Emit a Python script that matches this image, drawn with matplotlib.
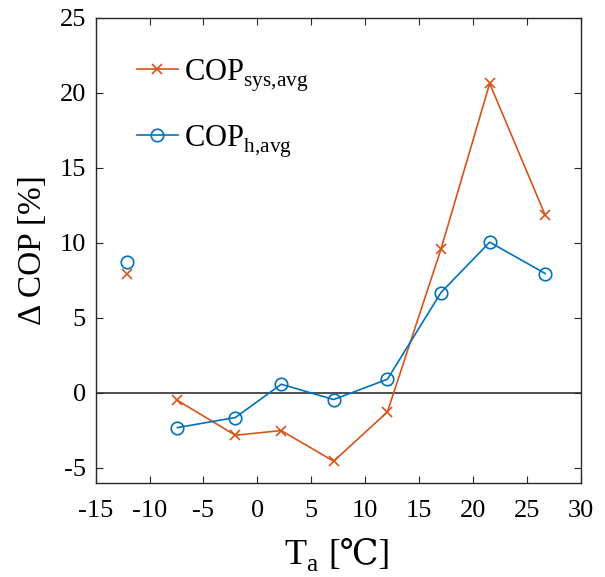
import numpy as np
import matplotlib
matplotlib.use("Agg")
import matplotlib.pyplot as plt
import matplotlib._mathtext as mt

plt.rcParams['font.family'] = ['Liberation Serif', 'DejaVu Serif']
plt.rcParams['mathtext.fontset'] = 'custom'
plt.rcParams['mathtext.rm'] = 'Liberation Serif'
plt.rcParams['mathtext.it'] = 'Liberation Serif:italic'
plt.rcParams['axes.unicode_minus'] = False
# push subscripts a bit lower, like the original
mt.FontConstantsBase.sub1 = 0.45
mt.FontConstantsBase.sub2 = 0.6

# ambient temperature [C]
t_iso = -12.06
t_a = [-7.42, -2.04, 2.22, 7.08, 12.06, 17.03, 21.55, 26.7]

# delta COP [%]
cop_sys_iso = 7.93
cop_sys = [-0.49, -2.82, -2.51, -4.55, -1.27, 9.58, 20.63, 11.85]
cop_h_iso = 8.73
cop_h = [-2.31, -1.64, 0.58, -0.44, 0.91, 6.69, 10.05, 7.96]

orange = '#D95319'
blue = '#0072BD'

fig = plt.figure(figsize=(6.05, 5.77), dpi=100)
ax = fig.add_axes([0.158, 0.163, 0.802, 0.806])

ax.axhline(0, color='#404040', lw=1.3, zorder=1)

ax.plot(t_a, cop_sys, color=orange, marker='x', ms=6.5, mew=1.2, lw=1.2,
        label=r'COP$_{\mathrm{sys{,}avg}}$')
ax.plot(t_a, cop_h, color=blue, marker='o', ms=9, mfc='none', mew=1.2, lw=1.2,
        label=r'COP$_{\mathrm{h{,}avg}}$')
ax.plot([t_iso], [cop_sys_iso], color=orange, marker='x', ms=6.5, mew=1.2, ls='none')
ax.plot([t_iso], [cop_h_iso], color=blue, marker='o', ms=9, mfc='none', mew=1.2, ls='none')

ax.set_xlim(-15, 30)
ax.set_ylim(-6, 25)
ax.set_xticks(np.arange(-15, 31, 5))
ax.set_yticks(np.arange(-5, 26, 5))
ax.tick_params(direction='in', top=True, right=True, labelsize=19, length=5,
               color='#262626')
ax.tick_params(axis='x', pad=12)
ax.tick_params(axis='y', pad=7)
for s in ax.spines.values():
    s.set_color('#262626')
    s.set_linewidth(1.0)

# x label in two pieces: mathtext can't fall back for the degree-celsius sign
fig.text(0.527, 0.022, r'T$_{\mathrm{a}}$', fontsize=26, ha='right', va='baseline')
fig.text(0.542, 0.022, '[℃]', fontsize=25, ha='left', va='baseline',
         family=['Liberation Serif', 'DejaVu Serif'])
ax.set_ylabel(r'Δ COP [%]', fontsize=24, labelpad=8)

leg = ax.legend(loc='upper left', bbox_to_anchor=(0.028, 0.975), frameon=False,
                fontsize=22, labelspacing=0.95, handlelength=1.35, handletextpad=0.2)

fig.savefig('out.png', dpi=100)
